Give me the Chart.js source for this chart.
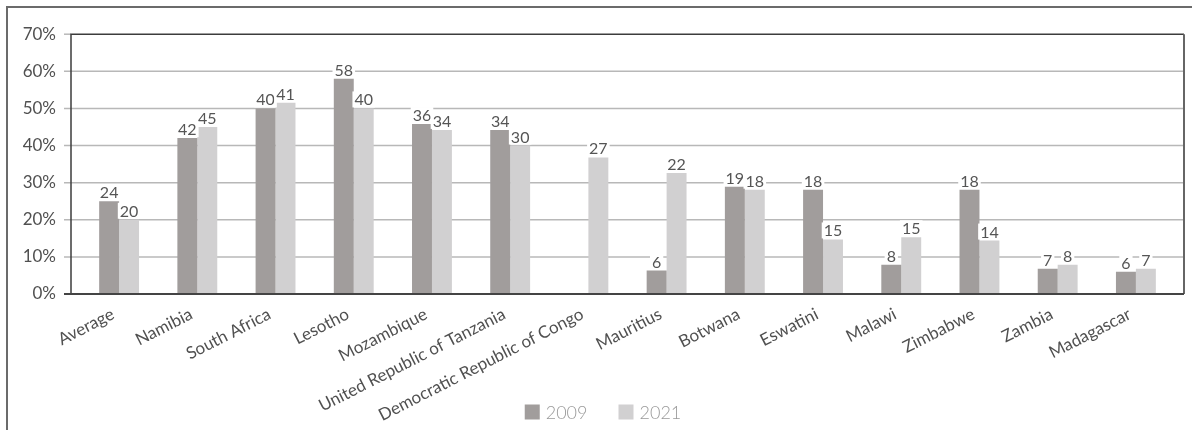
<!DOCTYPE html>
<html><head><meta charset="utf-8">
<script src="https://cdn.jsdelivr.net/npm/chart.js@4.4.0/dist/chart.umd.min.js"></script>
<style>html,body{margin:0;padding:0;background:#fff;overflow:hidden;}</style>
</head><body>
<canvas id="c" width="1192" height="430"></canvas>
<script>
const categories = ['Average','Namibia','South Africa','Lesotho','Mozambique','United Republic of Tanzania','Democratic Republic of Congo','Mauritius','Botwana','Eswatini','Malawi','Zimbabwe','Zambia','Madagascar'];
const seriesNames = ['2009','2021'];
const values2009 = [25, 42, 50, 58, 45.8, 44.2, null, 6.3, 28.9, 28.1, 7.9, 28.1, 6.8, 6.0];
const values2021 = [20, 45, 51.5, 50, 44.2, 40, 36.8, 32.6, 28.1, 14.7, 15.3, 14.4, 7.9, 6.8];
const labels2009 = [24, 42, 40, 58, 36, 34, null, 6, 19, 18, 8, 18, 7, 6];
const labels2021 = [20, 45, 41, 40, 34, 30, 27, 22, 18, 15, 15, 14, 8, 7];
const yTicks = [0, 10, 20, 30, 40, 50, 60, 70];
const colors = ['#a19d9c', '#d1d0d1'];
const FONT = 'Lato';

const decor = {
  id: 'decor',
  beforeDatasetsDraw(chart) {
    const {ctx, chartArea: a, scales: {y}} = chart;
    const L = a.left - 9, R = a.right + 9;
    ctx.save();
    ctx.strokeStyle = '#6b6b6b'; ctx.lineWidth = 2;
    ctx.beginPath(); ctx.moveTo(7, chart.height); ctx.lineTo(7, 7); ctx.lineTo(chart.width, 7); ctx.stroke();
    ctx.strokeStyle = '#b8b8b8'; ctx.lineWidth = 1.5;
    yTicks.forEach(v => {
      const py = y.getPixelForValue(v);
      ctx.beginPath(); ctx.moveTo(L - 7, py); ctx.lineTo((v === 0 || v === 70) ? L : R, py); ctx.stroke();
    });
    ctx.restore();
  },
  afterDatasetsDraw(chart) {
    const {ctx, chartArea: a, scales: {y}} = chart;
    const L = a.left - 9, R = a.right + 9;
    const T = y.getPixelForValue(70), B = y.getPixelForValue(0);
    ctx.save();
    ctx.strokeStyle = '#3c3c3c'; ctx.lineWidth = 1.5;
    ctx.beginPath(); ctx.moveTo(L, B); ctx.lineTo(L, T); ctx.lineTo(R, T); ctx.stroke();
    ctx.strokeStyle = '#666'; ctx.lineWidth = 2;
    ctx.beginPath(); ctx.moveTo(R, T); ctx.lineTo(R, B); ctx.stroke();
    ctx.strokeStyle = '#444'; ctx.lineWidth = 2;
    ctx.beginPath(); ctx.moveTo(L - 7, B); ctx.lineTo(R, B); ctx.stroke();
    // value labels
    ctx.font = '400 16px ' + FONT;
    ctx.textAlign = 'center'; ctx.textBaseline = 'alphabetic';
    const labelSets = [labels2009, labels2021];
    chart.data.datasets.forEach((ds, di) => {
      const meta = chart.getDatasetMeta(di);
      meta.data.forEach((bar, i) => {
        const t = labelSets[di][i];
        if (t === null || t === undefined) return;
        const s = String(t);
        const w = ctx.measureText(s).width;
        ctx.fillStyle = '#fff';
        ctx.fillRect(bar.x - w / 2 - 2, bar.y - 17, w + 4, 16);
        ctx.fillStyle = '#555';
        ctx.fillText(s, bar.x, bar.y - 3);
      });
    });
    ctx.restore();
  },
  afterDraw(chart) {
    // legend
    const {ctx} = chart;
    const ds = chart.data.datasets;
    ctx.save();
    ctx.font = '300 18px ' + FONT;
    ctx.textBaseline = 'middle'; ctx.textAlign = 'left';
    const cy = 412, box = 15, gapText = 6, gapItem = 31;
    let total = 0;
    const widths = ds.map(d => ctx.measureText(d.label).width);
    widths.forEach((w, i) => { total += box + gapText + w + (i < ds.length - 1 ? gapItem : 0); });
    let x = 603 - total / 2;
    ds.forEach((d, i) => {
      ctx.fillStyle = d.backgroundColor;
      ctx.fillRect(x, cy - box / 2, box, box);
      ctx.fillStyle = '#9a9a9a';
      ctx.fillText(d.label, x + box + gapText, cy + 1);
      x += box + gapText + widths[i] + gapItem;
    });
    ctx.restore();
  }
};

new Chart(document.getElementById('c'), {
  type: 'bar',
  data: {
    labels: categories,
    datasets: [
      {label: seriesNames[0], data: values2009, backgroundColor: colors[0], borderWidth: 0},
      {label: seriesNames[1], data: values2021, backgroundColor: colors[1], borderWidth: 0}
    ]
  },
  options: {
    responsive: false,
    animation: false,
    devicePixelRatio: 1,
    categoryPercentage: 0.51,
    barPercentage: 1.0,
    layout: {padding: {top: 28, right: 17, left: 0, bottom: 0}},
    plugins: {
      tooltip: {enabled: false},
      legend: {display: false}
    },
    scales: {
      x: {
        offset: true,
        grid: {display: false, drawTicks: false},
        border: {display: false},
        ticks: {autoSkip: false, minRotation: 27, maxRotation: 27, padding: 10, labelOffset: -6, color: '#505050', font: {family: FONT, size: 17, weight: '400'}},
        afterFit(s) { s.height = 136; s.paddingLeft = 0; s.paddingRight = 0; }
      },
      y: {
        min: 0, max: 70,
        grid: {display: false, drawTicks: false},
        border: {display: false},
        ticks: {stepSize: 10, padding: 24, color: '#505050', font: {family: FONT, size: 17, weight: '400'}, callback: v => v + '%'},
        afterFit(s) { s.width = 80; }
      }
    }
  },
  plugins: [decor]
});
</script>
</body></html>
